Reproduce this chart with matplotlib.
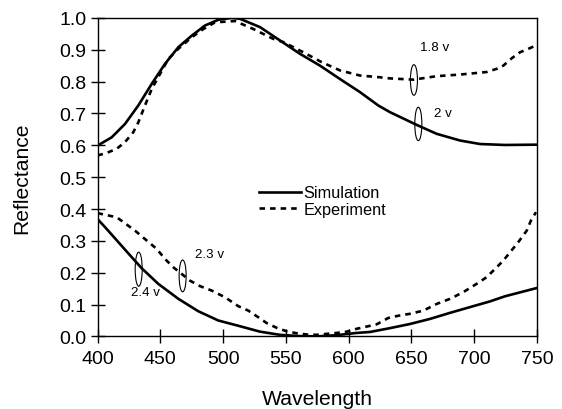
import matplotlib
matplotlib.use("Agg")
import matplotlib.pyplot as plt
from matplotlib.patches import Ellipse

plt.rcParams['font.family'] = ['Liberation Sans', 'DejaVu Sans']

# ---- Data ----
# 2 v (simulation, upper)
wl_sim_hi = [400, 411.3, 421.9, 432.5, 443.2, 453.8, 464.4, 475, 485.6, 496.2, 506.9, 513.5,
             529.4, 545.3, 561.3, 577.2, 593.1, 609, 623.6, 632.9, 654.2, 670.1, 688.7, 704.6,
             724.5, 751.8]
r_sim_hi = [0.599, 0.625, 0.667, 0.725, 0.793, 0.856, 0.908, 0.944, 0.976, 0.994, 1.0, 0.997,
            0.971, 0.929, 0.887, 0.85, 0.808, 0.767, 0.725, 0.704, 0.664, 0.636, 0.615, 0.604,
            0.601, 0.602]

# 1.8 v (experiment, upper)
wl_exp_hi = [400, 407.3, 415.3, 421.9, 428.5, 432.5, 437.8, 443.2, 449.8, 456.4, 464.4, 475,
             484.3, 493.6, 509.5, 524.1, 540, 548, 563.9, 578.5, 593.1, 609, 623.6, 632.9,
             651.5, 670.1, 688.7, 709.9, 717.9, 723.2, 729.8, 736.5, 744.4, 751.8]
r_exp_hi = [0.568, 0.576, 0.589, 0.61, 0.641, 0.672, 0.725, 0.777, 0.824, 0.871, 0.903, 0.939,
            0.965, 0.986, 0.99, 0.965, 0.934, 0.924, 0.892, 0.861, 0.835, 0.819, 0.814, 0.81,
            0.806, 0.817, 0.822, 0.83, 0.84, 0.85, 0.873, 0.892, 0.905, 0.918]

# 2.4 v (simulation, lower)
wl_sim_lo = [399.4, 406, 416.6, 427.2, 435.2, 448.4, 464.4, 480.3, 496.2, 513.5, 529.4, 545.3,
             561.3, 574.5, 590.5, 606.4, 617, 632.9, 648.8, 664.8, 680.7, 696.6, 712.6, 724.5,
             751.8]
r_sim_lo = [0.371, 0.343, 0.296, 0.249, 0.214, 0.165, 0.118, 0.079, 0.05, 0.032, 0.015, 0.005,
            0.001, 0.0, 0.004, 0.011, 0.014, 0.026, 0.039, 0.055, 0.074, 0.092, 0.11, 0.126,
            0.154]

# 2.3 v (experiment, lower)
wl_exp_lo = [400, 415.3, 429.9, 439.2, 447.1, 453.8, 460.4, 467.1, 473.7, 481.6, 490.9, 501.5,
             512.1, 520.1, 528.1, 534.7, 542.7, 550.7, 558.6, 566.6, 574.5, 582.5, 590.5, 598.5,
             606.4, 614.4, 622.3, 631.6, 639.6, 648.8, 659.5, 670.1, 680.7, 691.3, 701.9, 709.9,
             716.6, 723.2, 728.5, 735.1, 741.8, 745.2, 749.2]
r_exp_lo = [0.387, 0.374, 0.332, 0.301, 0.275, 0.243, 0.217, 0.196, 0.175, 0.158, 0.144, 0.123,
            0.095, 0.081, 0.06, 0.042, 0.027, 0.016, 0.01, 0.006, 0.005, 0.008, 0.011, 0.015,
            0.024, 0.031, 0.038, 0.058, 0.065, 0.071, 0.081, 0.102, 0.118, 0.139, 0.165, 0.186,
            0.212, 0.238, 0.264, 0.296, 0.332, 0.364, 0.39]

x_ticks = [400, 450, 500, 550, 600, 650, 700, 750]
y_ticks = [0.0, 0.1, 0.2, 0.3, 0.4, 0.5, 0.6, 0.7, 0.8, 0.9, 1.0]

# annotations: (label, text x, text y, ellipse x, ellipse y, ellipse height)
annotations = [
    ("1.8 v", 668.8, 0.908, 652.0, 0.805, 0.096),
    ("2 v", 674.9, 0.702, 655.5, 0.667, 0.105),
    ("2.3 v", 489.0, 0.259, 467.8, 0.190, 0.100),
    ("2.4 v", 438.6, 0.141, 432.8, 0.211, 0.107),
]

fig = plt.figure(figsize=(5.62, 4.10), dpi=100)
ax = fig.add_axes([0.1735, 0.177, 0.782, 0.777])

lw = 1.9
dash = (0, (2.1, 1.9))
ax.plot(wl_sim_hi, r_sim_hi, color='black', lw=lw, label='Simulation')
ax.plot(wl_exp_hi, r_exp_hi, color='black', lw=lw, ls=dash, label='Experiment')
ax.plot(wl_sim_lo, r_sim_lo, color='black', lw=lw)
ax.plot(wl_exp_lo, r_exp_lo, color='black', lw=lw, ls=dash)

ax.set_xlim(400, 750)
ax.set_ylim(0.0, 1.0)
ax.set_xticks(x_ticks)
ax.set_yticks(y_ticks)
ax.set_yticklabels([f"{v:.1f}" for v in y_ticks])
ax.tick_params(direction='inout', length=9.5, width=1, labelsize=14)
ax.tick_params(axis='y', pad=3)
ax.tick_params(axis='x', pad=5)
for s in ax.spines.values():
    s.set_linewidth(1.0)

ax.set_xlabel('Wavelength', fontsize=15.2, labelpad=16)
ax.set_ylabel('Reflectance', fontsize=15.2, labelpad=20)

for (txt, tx, ty, ex, ey, eh) in annotations:
    ax.add_patch(Ellipse((ex, ey), 5.6, eh, fill=False, ec='black', lw=0.8))
    ax.text(tx, ty, txt, fontsize=9.6, ha='center', va='center')

leg = ax.legend(loc='center left', bbox_to_anchor=(0.367, 0.425), frameon=False, fontsize=11.7,
                handlelength=2.6, handletextpad=0.15, labelspacing=0.1, borderpad=0,
                borderaxespad=0)

fig.savefig('out.png', dpi=100)
